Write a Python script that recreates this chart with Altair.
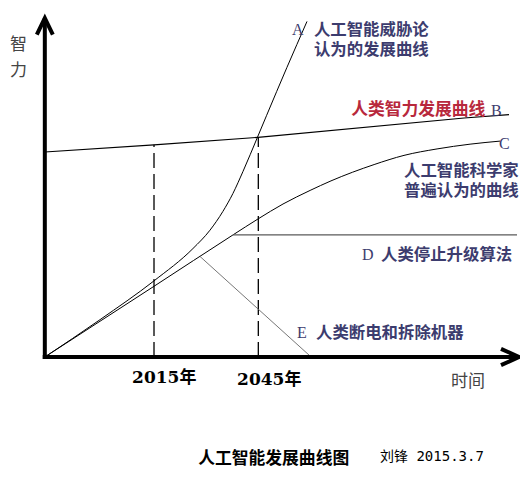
import altair as alt
import pandas as pd

# ---------------- data (x = year, y = intelligence, arbitrary units) ----------------
# Curve A: AI-threat view
a_year = [1983.6, 1999.5, 2015.0, 2026.2, 2031.1, 2034.8, 2037.7, 2040.6, 2044.7,
          2047.4, 2053.2, 2059.0]
a_iq = [0, 11.0, 22.4, 31.9, 37.3, 42.8, 48.1, 54.6, 64.5, 71.1, 85.1, 98.7]
# Curve B: human intelligence
b_year = [1983.6, 2015.0, 2044.9, 2104.2, 2117.1]
b_iq = [60.3, 62.4, 64.6, 70.3, 71.3]
# Curve C: scientists' view
c_year = [1983.6, 2015.0, 2037.7, 2044.9, 2052.1, 2059.9, 2065.9, 2078.3, 2086.9,
          2096.4, 2105.9, 2114.5]
c_iq = [0, 20.8, 35.9, 40.6, 45.0, 49.0, 51.8, 56.6, 59.3, 61.2, 62.6, 63.5]
# D: humans stop upgrading algorithms
d_year = [2037.7, 2119.4]
d_iq = [35.9, 35.9]
# E: humans cut power / dismantle machines
e_year = [2028.2, 2060.2]
e_iq = [29.6, 0]
# dashed markers
mark_years = [2015.0, 2045.0]
mark_tops = [62.4, 64.6]

# axes with arrows
axis_origin_year = 1983.6
axis_left_year = 1983.0
axis_end_year = 2120.0
axis_top_iq = 99.7
axis_bottom_iq = -0.6
yarrow_year = [1981.3, 1983.6, 1985.9]
yarrow_iq = [94.8, 99.7, 94.8]
xarrow_year = [2114.8, 2120.0, 2114.8]
xarrow_iq = [2.4, 0, -2.4]

# text labels
lbl_series_text = ["A", "B", "C", "D", "E"]
lbl_series_year = [2054.7, 2111.9, 2114.2, 2074.8, 2056.1]
lbl_series_iq = [96.2, 72.4, 62.6, 30.0, 7.2]

blue_text = ["人工智能威胁论", "认为的发展曲线", "人工智能科学家", "普遍认为的曲线",
             "人类停止升级算法", "人类断电和拆除机器"]
blue_year = [2061.0, 2061.0, 2086.9, 2086.9, 2080.3, 2061.6]
blue_iq = [96.2, 90.3, 54.6, 48.8, 30.0, 7.2]

red_text = ["人类智力发展曲线"]
red_year = [2071.7]
red_iq = [72.6]

tick_text = ["2015年", "2045年"]
tick_year = [2008.7, 2038.9]
tick_iq = [-6.2, -6.8]

ylab_text = ["智", "力"]
ylab_year = [1976.0, 1976.0]
ylab_iq = [91.8, 84.1]

xlab_text = ["时间"]
xlab_year = [2100.4]
xlab_iq = [-7.4]

title_text = ["人工智能发展曲线图"]
title_year = [2027.7]
title_iq = [-30.0]

author_text = ["刘锋 2015.3.7"]
author_year = [2080.0]
author_iq = [-29.4]

# ---------------- build tables ----------------
def lines_df(series):
    rows = []
    for name, (xs, ys) in series.items():
        for i, (xv, yv) in enumerate(zip(xs, ys)):
            rows.append({"series": name, "year": xv, "iq": yv, "i": i})
    return pd.DataFrame(rows)

def text_df(texts, xs, ys):
    return pd.DataFrame({"text": texts, "year": xs, "iq": ys})

xscale = alt.Scale(domain=[1973.01, 2120.26], nice=False, zero=False)
yscale = alt.Scale(domain=[-37.35, 102.65], nice=False, zero=False)
X = alt.X("year:Q", scale=xscale, axis=None)
Y = alt.Y("iq:Q", scale=yscale, axis=None)

def line_layer(series, **mk):
    return alt.Chart(lines_df(series)).mark_line(**mk).encode(
        x=X, y=Y, detail="series:N", order="i:Q")

def text_layer(texts, xs, ys, **mk):
    return alt.Chart(text_df(texts, xs, ys)).mark_text(**mk).encode(
        x=X, y=Y, text="text:N")

axes = line_layer({
    "yaxis": ([axis_origin_year, axis_origin_year], [axis_bottom_iq, axis_top_iq]),
    "xaxis": ([axis_left_year, axis_end_year], [0, 0]),
    "yarrow": (yarrow_year, yarrow_iq),
    "xarrow": (xarrow_year, xarrow_iq),
}, color="black", strokeWidth=4, strokeJoin="miter")

curves_ac = line_layer({"A": (a_year, a_iq), "C": (c_year, c_iq)},
                       color="black", strokeWidth=1, interpolate="monotone")
curve_b = line_layer({"B": (b_year, b_iq)}, color="black", strokeWidth=1.2)
line_d = line_layer({"D": (d_year, d_iq)}, color="#5a5a5a", strokeWidth=1.3)
line_e = line_layer({"E": (e_year, e_iq)}, color="#666666", strokeWidth=0.9)
dashed = line_layer({
    "m2015": ([mark_years[0], mark_years[0]], [0, mark_tops[0]]),
    "m2045": ([mark_years[1], mark_years[1]], [0, mark_tops[1]]),
}, color="black", strokeWidth=1.3, strokeDash=[15, 6])

cjk = "Noto Sans CJK SC"
navy = "#3c3c6e"

t_letters = text_layer(lbl_series_text, lbl_series_year, lbl_series_iq,
                       align="left", baseline="middle", font="Liberation Serif",
                       fontSize=16, color=navy)
t_blue = text_layer(blue_text, blue_year, blue_iq, align="left", baseline="middle",
                    font=cjk, fontSize=16.4, fontWeight="bold", color=navy)
t_red = text_layer(red_text, red_year, red_iq, align="left", baseline="middle",
                   font=cjk, fontSize=16.8, fontWeight="bold", color="#b8283c")
t_ticks = text_layer(tick_text, tick_year, tick_iq, align="left", baseline="middle",
                     font="DejaVu Serif, Noto Sans CJK SC", fontSize=17,
                     fontWeight="bold", color="black")
t_ylab = text_layer(ylab_text, ylab_year, ylab_iq, align="center", baseline="middle",
                    font=cjk, fontSize=17, color="#444444")
t_xlab = text_layer(xlab_text, xlab_year, xlab_iq, align="left", baseline="middle",
                    font=cjk, fontSize=17, color="#444444")
t_title = text_layer(title_text, title_year, title_iq, align="left", baseline="middle",
                     font=cjk, fontSize=16.8, fontWeight="bold", color="black")
t_author = text_layer(author_text, author_year, author_iq, align="left",
                      baseline="middle", font="DejaVu Sans Mono, Noto Sans CJK SC",
                      fontSize=14, color="black")

chart = alt.layer(
    dashed, curve_b, curves_ac, line_d, line_e, axes,
    t_letters, t_blue, t_red, t_ticks, t_ylab, t_xlab, t_title, t_author,
).properties(
    width=512, height=476, padding=0,
    autosize=alt.AutoSizeParams(type="none"),
    background="white",
).configure_view(stroke=None)

chart.save("out.html", embed_options={"renderer": "svg", "actions": False})
